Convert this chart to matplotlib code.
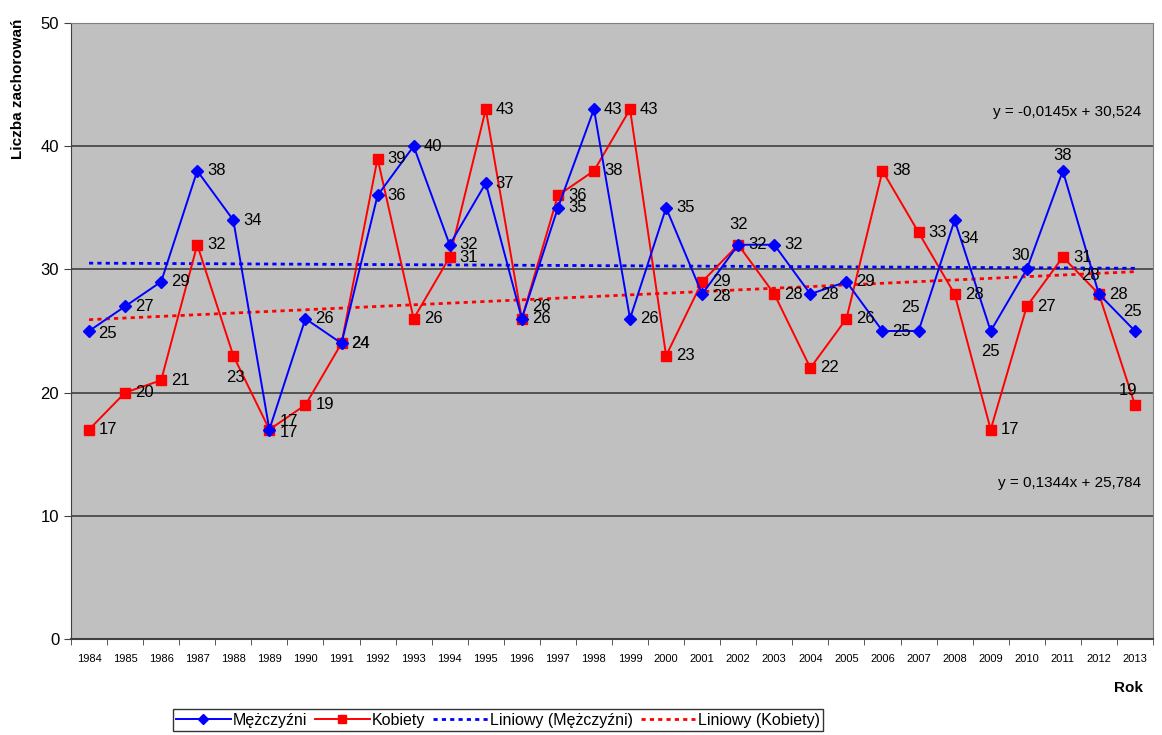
import matplotlib
matplotlib.use("Agg")
import matplotlib.pyplot as plt
import numpy as np

plt.rcParams['font.family'] = ['Liberation Sans', 'DejaVu Sans']

# data
years = list(range(1984, 2014))
men = [25, 27, 29, 38, 34, 17, 26, 24, 36, 40, 32, 37, 26, 35, 43, 26, 35, 28, 32, 32,
       28, 29, 25, 25, 34, 25, 30, 38, 28, 25]
women = [17, 20, 21, 32, 23, 17, 19, 24, 39, 26, 31, 43, 26, 36, 38, 43, 23, 29, 32, 28,
         22, 26, 38, 33, 28, 17, 27, 31, 28, 19]
eq_men = "y = -0,0145x + 30,524"
eq_women = "y = 0,1344x + 25,784"

# label offsets in pixels (dx, dy, ha), default right of point
men_off = {1984: (9, -2, 'left'), 1989: (10, 8, 'left'), 1996: (10, 12, 'left'),
           2001: (10, -2, 'left'), 2002: (0, 20, 'center'), 2007: (-8, 23, 'center'),
           2008: (15, -18, 'center'), 2009: (0, -21, 'center'), 2010: (-6, 14, 'center'),
           2011: (0, 15, 'center'), 2012: (-8, 19, 'center'), 2013: (-3, 20, 'center')}
women_off = {1989: (10, -3, 'left'), 1988: (2, -22, 'center'), 2013: (-7, 14, 'center')}

x = np.arange(len(years))
px = 72 / 100.0  # pixels -> points

fig = plt.figure(figsize=(11.62, 7.35), dpi=100)
ax = fig.add_axes([71 / 1162, 1 - 639 / 735, (1153 - 71) / 1162, (639 - 23) / 735])
ax.set_facecolor('#C0C0C0')

ax.plot(x, men, color='#0000FF', lw=1.4, marker='D', ms=6.5, label='Mężczyźni', zorder=4)
ax.plot(x, women, color='#FF0000', lw=1.4, marker='s', ms=7.5, label='Kobiety', zorder=3)

# linear trends
pm = np.polyfit(x + 1, men, 1)
pw = np.polyfit(x + 1, women, 1)
ax.plot(x, np.polyval(pm, x + 1), color='#0000FF', lw=2, ls=(0, (1.5, 1.5)),
        label='Liniowy (Mężczyźni)', zorder=2)
ax.plot(x, np.polyval(pw, x + 1), color='#FF0000', lw=2, ls=(0, (1.5, 1.5)),
        label='Liniowy (Kobiety)', zorder=2)

for i, yr in enumerate(years):
    dx, dy, ha = men_off.get(yr, (10, 0, 'left'))
    ax.annotate(str(men[i]), (x[i], men[i]), xytext=(dx * px, dy * px),
                textcoords='offset points', ha=ha, va='center', fontsize=12, zorder=5)
    dx, dy, ha = women_off.get(yr, (10, 0, 'left'))
    ax.annotate(str(women[i]), (x[i], women[i]), xytext=(dx * px, dy * px),
                textcoords='offset points', ha=ha, va='center', fontsize=12, zorder=5)

ax.text(0.989, 42.8, eq_men, transform=ax.get_yaxis_transform(), ha='right', va='center',
        fontsize=11)
ax.text(0.989, 12.7, eq_women, transform=ax.get_yaxis_transform(), ha='right', va='center',
        fontsize=11)

ax.set_xlim(-0.5, len(years) - 0.5)
ax.set_ylim(0, 50)
ax.set_yticks(range(0, 51, 10))
ax.yaxis.grid(True, color='#404040', lw=1.2)
ax.set_axisbelow(True)
ax.set_xticks(x)
ax.set_xticklabels([str(y) for y in years], fontsize=8)
ax.set_xticks(np.arange(-0.5, len(years), 1), minor=True)
ax.tick_params(axis='x', which='major', length=0, pad=11)
ax.tick_params(axis='x', which='minor', length=4, direction='out', color='#404040')
ax.tick_params(axis='y', labelsize=12, length=5, direction='out', color='#404040')
for side in ['top', 'right']:
    ax.spines[side].set_color('#808080')
ax.spines['left'].set_color('#404040')
ax.spines['bottom'].set_color('#404040')
ax.spines['bottom'].set_linewidth(1.5)

ax.set_ylabel('Liczba zachorowań', fontsize=11, fontweight='bold')
ax.yaxis.set_label_coords(-46 / 1082, (639 - 89) / 616)
fig.text(1143 / 1162, 1 - 688 / 735, 'Rok', ha='right', va='center', fontsize=11,
         fontweight='bold')

leg = fig.legend(loc='center', bbox_to_anchor=(498 / 1162, 1 - 720 / 735), ncol=4,
                 fontsize=11.5, frameon=True, fancybox=False, edgecolor='black',
                 handlelength=3.4, handletextpad=0.15, columnspacing=0.5,
                 borderpad=0.2, borderaxespad=0, markerscale=0.8)
leg.get_frame().set_linewidth(1)

fig.savefig('out.png', dpi=100)
